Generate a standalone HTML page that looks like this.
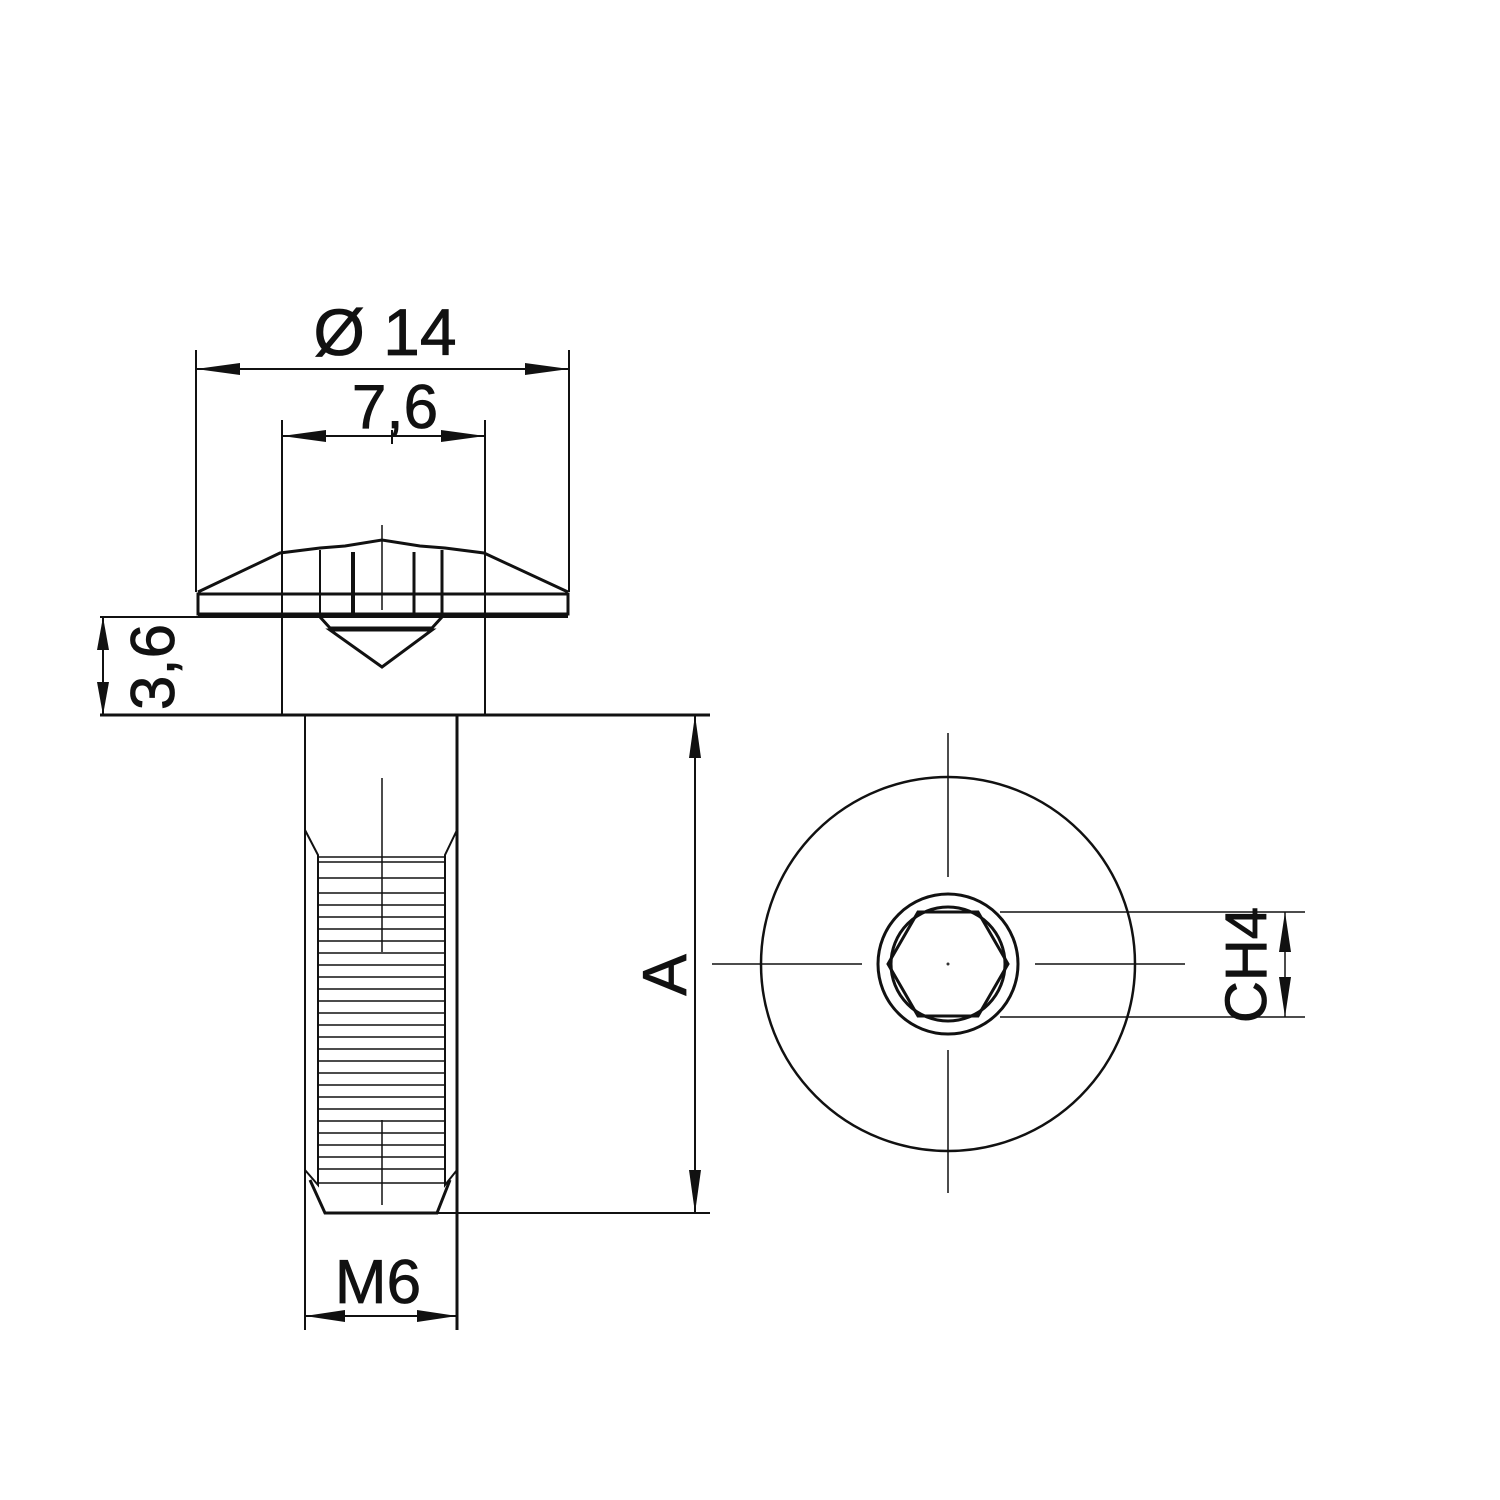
<!DOCTYPE html>
<html><head><meta charset="utf-8"><style>html,body{margin:0;padding:0;background:#fff}svg{display:block}</style></head>
<body>
<svg width="1500" height="1500" viewBox="0 0 1500 1500" xmlns="http://www.w3.org/2000/svg" font-family="Liberation Sans, sans-serif">
<g stroke="#111" fill="none" stroke-width="2">
<line x1="196" y1="350" x2="196" y2="592"/>
<line x1="569" y1="350" x2="569" y2="592"/>
<line x1="196" y1="369" x2="569" y2="369"/>
<line x1="282" y1="420" x2="282" y2="715"/>
<line x1="485" y1="420" x2="485" y2="715"/>
<line x1="282" y1="436" x2="485" y2="436"/>
<line x1="392" y1="430" x2="392" y2="444"/>
<path d="M198 592 L280 553 L320 548 L345 546 L382 540 L420 546 L445 548 L484 553 L568 592" stroke-width="3"/>
<rect x="198" y="594" width="370" height="20" stroke-width="3"/>
<line x1="198" y1="616" x2="568" y2="616" stroke-width="4"/>
<line x1="320" y1="550" x2="320" y2="616"/>
<line x1="353" y1="552" x2="353" y2="616" stroke-width="4"/>
<line x1="414" y1="552" x2="414" y2="616" stroke-width="3"/>
<line x1="442" y1="550" x2="442" y2="616" stroke-width="3"/>
<line x1="382" y1="525" x2="382" y2="610" stroke-width="1.5"/>
<path d="M320 617 L330 628 L432 628 L442 617" stroke-width="3"/>
<path d="M330 630 L432 630 L382 667 Z" stroke-width="3"/>
<line x1="100" y1="617" x2="282" y2="617"/>
<line x1="100" y1="715" x2="710" y2="715" stroke-width="3"/>
<line x1="103" y1="617" x2="103" y2="715"/>
<line x1="305" y1="715" x2="305" y2="1330"/>
<line x1="457" y1="715" x2="457" y2="1330" stroke-width="3"/>
<path d="M305 830 L318 855 L318 1185 L305 1170" stroke-width="2"/>
<path d="M457 830 L445 855 L445 1185 L457 1170" stroke-width="2"/>
<path d="M310 1180 L325 1213 L437 1213 L450 1180" stroke-width="3"/>
<line x1="437" y1="1213" x2="710" y2="1213"/>
<g stroke-width="1.5">
<line x1="318" y1="857" x2="445" y2="857"/>
<line x1="318" y1="862" x2="445" y2="862"/>
<line x1="318" y1="878" x2="445" y2="878"/>
<line x1="318" y1="893" x2="445" y2="893"/>
<line x1="318" y1="905" x2="445" y2="905"/>
<line x1="318" y1="917" x2="445" y2="917"/>
<line x1="318" y1="929" x2="445" y2="929"/>
<line x1="318" y1="941" x2="445" y2="941"/>
<line x1="318" y1="953" x2="445" y2="953"/>
<line x1="318" y1="965" x2="445" y2="965"/>
<line x1="318" y1="977" x2="445" y2="977"/>
<line x1="318" y1="989" x2="445" y2="989"/>
<line x1="318" y1="1001" x2="445" y2="1001"/>
<line x1="318" y1="1013" x2="445" y2="1013"/>
<line x1="318" y1="1025" x2="445" y2="1025"/>
<line x1="318" y1="1037" x2="445" y2="1037"/>
<line x1="318" y1="1049" x2="445" y2="1049"/>
<line x1="318" y1="1061" x2="445" y2="1061"/>
<line x1="318" y1="1073" x2="445" y2="1073"/>
<line x1="318" y1="1085" x2="445" y2="1085"/>
<line x1="318" y1="1097" x2="445" y2="1097"/>
<line x1="318" y1="1109" x2="445" y2="1109"/>
<line x1="318" y1="1121" x2="445" y2="1121"/>
<line x1="318" y1="1133" x2="445" y2="1133"/>
<line x1="318" y1="1145" x2="445" y2="1145"/>
<line x1="318" y1="1157" x2="445" y2="1157"/>
<line x1="318" y1="1169" x2="445" y2="1169"/>
<line x1="318" y1="1183" x2="445" y2="1183"/>
<line x1="382" y1="778" x2="382" y2="952"/>
<line x1="382" y1="1120" x2="382" y2="1205"/>
</g>
<line x1="305" y1="1316" x2="457" y2="1316"/>
<line x1="695" y1="715" x2="695" y2="1213"/>
<circle cx="948" cy="964" r="187" stroke-width="2.5"/>
<circle cx="948" cy="964" r="70" stroke-width="3"/>
<circle cx="948" cy="964" r="57" stroke-width="3"/>
<polygon points="918,912 978,912 1008,964 978,1016 918,1016 888,964" stroke-width="3"/>
<g stroke-width="1.5">
<line x1="948" y1="733" x2="948" y2="877"/>
<line x1="948" y1="1050" x2="948" y2="1193"/>
<line x1="712" y1="964" x2="862" y2="964"/>
<line x1="1035" y1="964" x2="1185" y2="964"/>
<line x1="1000" y1="912" x2="1305" y2="912"/>
<line x1="1000" y1="1017" x2="1305" y2="1017"/>
<line x1="1285" y1="912" x2="1285" y2="1017"/>
</g>
</g>
<circle cx="948" cy="964" r="1.5" fill="#333"/>
<g fill="#111">
<polygon points="196,369 240,363 240,375"/>
<polygon points="569,369 525,363 525,375"/>
<polygon points="282,436 326,430 326,442"/>
<polygon points="485,436 441,430 441,442"/>
<polygon points="103,617 97,650 109,650"/>
<polygon points="103,715 97,682 109,682"/>
<polygon points="305,1316 345,1310 345,1322"/>
<polygon points="457,1316 417,1310 417,1322"/>
<polygon points="695,715 689,758 701,758"/>
<polygon points="695,1213 689,1170 701,1170"/>
<polygon points="1285,912 1279,952 1291,952"/>
<polygon points="1285,1017 1279,977 1291,977"/>
</g>
<g fill="#111" font-size="62" stroke="#111" stroke-width="0.8">
<text x="385" y="355" text-anchor="middle" font-size="66">Ø 14</text>
<text x="395" y="428" text-anchor="middle">7,6</text>
<text x="378" y="1303" text-anchor="middle">M6</text>
<text transform="translate(174,667) rotate(-90)" text-anchor="middle">3,6</text>
<text transform="translate(686,975) rotate(-90)" text-anchor="middle">A</text>
<text transform="translate(1266,965) rotate(-90)" text-anchor="middle" font-size="58">CH4</text>
</g>
</svg>
</body></html>
